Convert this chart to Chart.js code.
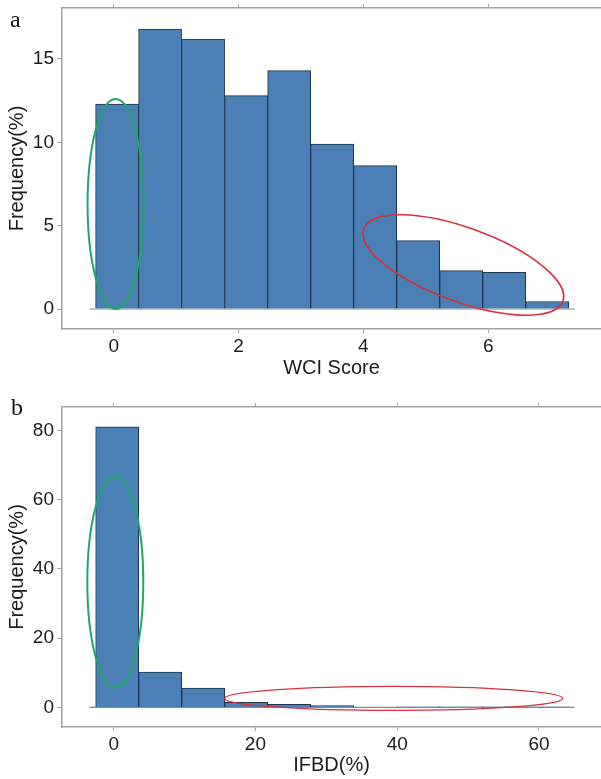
<!DOCTYPE html>
<html>
<head>
<meta charset="utf-8">
<script src="https://cdn.jsdelivr.net/npm/chart.js@4.4.0/dist/chart.umd.min.js"></script>
<style>
  html, body { margin: 0; padding: 0; background: #fff; }
  #wrap { position: relative; width: 601px; height: 779px; overflow: hidden; }
  .panel { position: absolute; left: 0; width: 601px; }
  .tag { position: absolute; font-family: "Liberation Serif", "Times New Roman", serif; font-size: 24px; line-height: 24px; color: #111; }
</style>
</head>
<body>
<div id="wrap">
  <div class="panel" style="top:0;height:389px"><canvas id="chartA"></canvas></div>
  <div class="panel" style="top:389px;height:390px"><canvas id="chartB"></canvas></div>
  <div class="tag" style="left:10px;top:7px">a</div>
  <div class="tag" style="left:11px;top:395px">b</div>
</div>
<script>
// panel a - WCI score histogram
var wciBinEdges = [-0.290, 0.399, 1.088, 1.777, 2.466, 3.155, 3.844, 4.533, 5.222, 5.911, 6.600, 7.289];
var wciFreq = [12.3, 16.8, 16.2, 12.8, 14.3, 9.9, 8.6, 4.1, 2.3, 2.2, 0.45];
var wciTicksX = [0, 2, 4, 6];
var wciTicksY = [0, 5, 10, 15];
var wciBaseline = [-0.39, 7.39];

// panel b - IFBD(%) histogram
var ifbdBinEdges = [-2.54, 3.527, 9.594, 15.661, 21.728, 27.795, 33.862, 39.929, 45.996, 52.063, 58.13, 64.197];
var ifbdFreq = [81.0, 10.2, 5.6, 1.45, 0.9, 0.5, 0, 0.15, 0.15, 0.15, 0.15];
var ifbdTicksX = [0, 20, 40, 60];
var ifbdTicksY = [0, 20, 40, 60, 80];
var ifbdBaseline = [-3.44, 65.0];

var axisGray = '#a3a3a3';
var textColor = '#1c1c1c';
var fontFam = '"Liberation Sans", Arial, sans-serif';

// draws the hand-drawn style rings, centre in data units
var ellipsePlugin = {
  id: 'rings',
  afterDatasetsDraw: function(chart, args, opts) {
    var ctx = chart.ctx, xs = chart.scales.x, ys = chart.scales.y;
    (opts.items || []).forEach(function(e) {
      ctx.save();
      ctx.beginPath();
      ctx.ellipse(xs.getPixelForValue(e.x), ys.getPixelForValue(e.y), e.rx, e.ry, e.rot * Math.PI / 180, 0, 2 * Math.PI);
      ctx.strokeStyle = e.color;
      ctx.lineWidth = e.width;
      ctx.stroke();
      ctx.restore();
    });
  }
};

function setTicks(list) {
  return function(scale) { scale.ticks = list.map(function(v) { return { value: v }; }); };
}

// fixed axis size, and no extra room kept for the end labels
function fixSize(dim, size) {
  return function(s) {
    s[dim] = size;
    s.paddingTop = 0; s.paddingBottom = 0; s.paddingLeft = 0; s.paddingRight = 0;
  };
}

function makeHist(id, p) {
  var bars = p.freq.map(function(f, i) {
    return { x: (p.edges[i] + p.edges[i + 1]) / 2, y: f };
  });
  return new Chart(document.getElementById(id), {
    type: 'bar',
    data: {
      datasets: [{
        type: 'bar',
        data: bars,
        backgroundColor: '#4a80b6',
        borderColor: '#1e3652',
        borderWidth: 1,
        barPercentage: 1,
        categoryPercentage: 1,
        order: 1
      }, {
        type: 'line',
        data: [{ x: p.base[0], y: 0 }, { x: p.base[1], y: 0 }],
        borderColor: '#8a8a8a',
        borderWidth: 1.2,
        pointRadius: 0,
        order: 2
      }]
    },
    options: {
      responsive: true,
      maintainAspectRatio: false,
      animation: false,
      layout: { padding: 0 },
      plugins: {
        legend: { display: false },
        tooltip: { enabled: false },
        rings: { items: p.rings }
      },
      scales: {
        x: {
          type: 'linear',
          position: 'bottom',
          min: p.xMin, max: p.xMax,
          offset: false,
          afterBuildTicks: setTicks(p.ticksX),
          afterFit: fixSize('height', p.xHeight),
          grid: { drawOnChartArea: false, offset: false, color: axisGray, tickLength: 4 },
          border: { color: axisGray, width: 1.5 },
          ticks: { color: textColor, font: { family: fontFam, size: 19 }, padding: 2, maxRotation: 0 },
          title: { display: true, text: p.xTitle, color: textColor, font: { family: fontFam, size: 20 }, padding: { top: 0, bottom: p.titlePad } }
        },
        xTop: {
          type: 'linear',
          position: 'top',
          min: p.xMin, max: p.xMax,
          offset: false,
          afterBuildTicks: setTicks(p.ticksX),
          afterFit: fixSize('height', p.topHeight),
          grid: { drawOnChartArea: false, offset: false, color: axisGray, tickLength: 4 },
          border: { color: axisGray, width: 1.5 },
          ticks: { display: false }
        },
        y: {
          type: 'linear',
          min: p.yMin, max: p.yMax,
          afterBuildTicks: setTicks(p.ticksY),
          afterFit: fixSize('width', 62),
          grid: { drawOnChartArea: false, color: axisGray, tickLength: 5 },
          border: { color: axisGray, width: 1.5 },
          ticks: { color: textColor, font: { family: fontFam, size: 19 }, padding: 3 },
          title: { display: true, text: 'Frequency(%)', color: textColor, font: { family: fontFam, size: 20 }, padding: { top: 5, bottom: 0 } }
        }
      }
    },
    plugins: [ellipsePlugin]
  });
}

makeHist('chartA', {
  edges: wciBinEdges, freq: wciFreq, base: wciBaseline,
  ticksX: wciTicksX, ticksY: wciTicksY,
  xMin: -0.828, xMax: 7.806, yMin: -1.2, yMax: 18.06,
  xTitle: 'WCI Score', xHeight: 60, topHeight: 8, titlePad: 9,
  rings: [
    { x: 0.03, y: 6.3, rx: 28, ry: 105, rot: 0, color: '#1fa865', width: 2 },
    { x: 5.6, y: 2.64, rx: 106, ry: 37, rot: 20, color: '#d9303f', width: 1.6 }
  ]
});

makeHist('chartB', {
  edges: ifbdBinEdges, freq: ifbdFreq, base: ifbdBaseline,
  ticksX: ifbdTicksX, ticksY: ifbdTicksY,
  xMin: -7.29, xMax: 68.75, yMin: -5.66, yMax: 86.76,
  xTitle: 'IFBD(%)', xHeight: 52, topHeight: 18, titlePad: 2,
  rings: [
    { x: 0.23, y: 36.2, rx: 28, ry: 105.5, rot: 0, color: '#1fa865', width: 2 },
    { x: 39.5, y: 2.6, rx: 169, ry: 12, rot: 0, color: '#d9303f', width: 1.4 }
  ]
});
</script>
</body>
</html>
